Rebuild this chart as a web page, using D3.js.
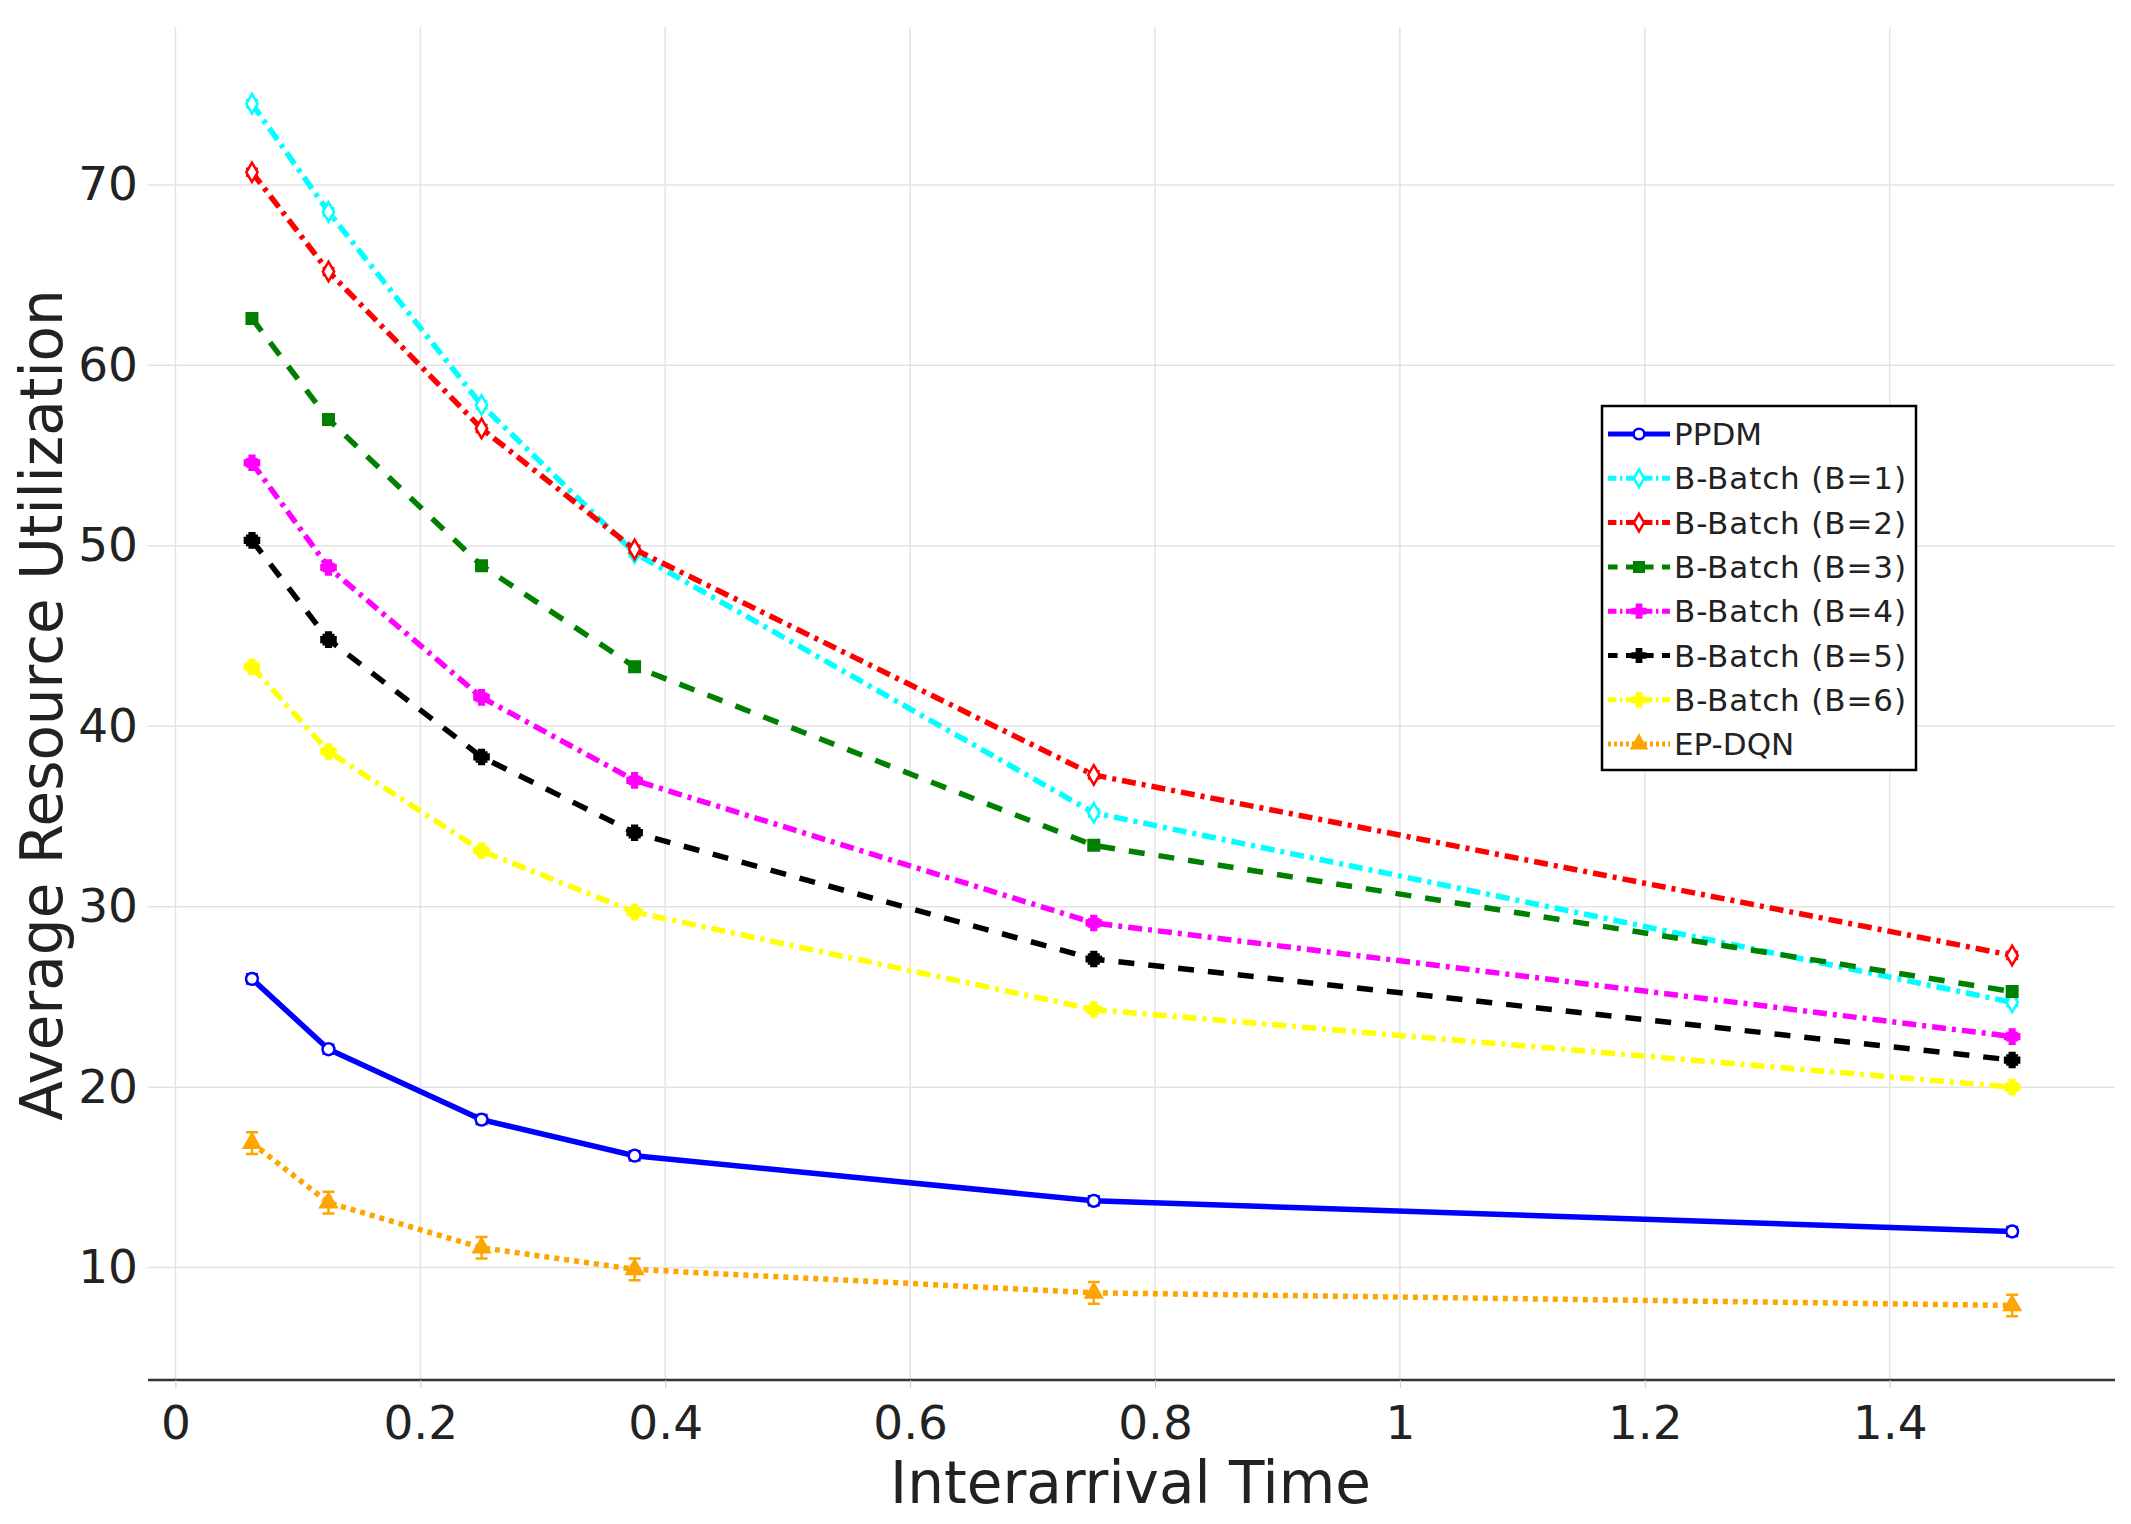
<!DOCTYPE html><html><head><meta charset="utf-8"><script src="https://cdn.jsdelivr.net/npm/d3@7"></script>
<style>body{margin:0;background:#fff}text{font-family:"DejaVu Sans",sans-serif;fill:#222}</style></head><body>
<svg id="c" width="2131" height="1524"></svg>
<script>
const xs=[0.0625,0.125,0.25,0.375,0.75,1.5];
const names=["PPDM","B-Batch (B=1)","B-Batch (B=2)","B-Batch (B=3)","B-Batch (B=4)","B-Batch (B=5)","B-Batch (B=6)","EP-DQN"];
const colors=["#0000ff","#00ffff","#ff0000","#008000","#ff00ff","#000000","#ffff00","#ffa500"];
const dashes=[null,"14,6,4,6","14,6,4,6","16,14","14,6,4,6","16,14","14,6,4,6","5,5"];
const vals=[
[26.0,22.1,18.2,16.2,13.7,12.0],
[74.5,68.5,57.8,49.6,35.2,24.7],
[70.7,65.2,56.5,49.8,37.3,27.3],
[62.6,57.0,48.9,43.3,33.4,25.3],
[54.6,48.8,41.6,37.0,29.1,22.8],
[50.3,44.8,38.3,34.1,27.1,21.5],
[43.3,38.6,33.1,29.7,24.3,20.0],
[16.9,13.6,11.1,9.9,8.6,7.9]];
const errs=[0.25,0.2,0.2,0.2,0.2,0.25,0.2,0.6];
const xTicks=[0,0.2,0.4,0.6,0.8,1,1.2,1.4];
const yTicks=[10,20,30,40,50,60,70];
const svg=d3.select("#c");
const L=148,R=2115,T=27,B=1380;
const x=d3.scaleLinear().domain([-0.0224,1.584]).range([L,R]);
const y=d3.scaleLinear().domain([3.77,78.75]).range([B,T]);
const g=svg.append("g");
g.selectAll(".gx").data(xTicks).join("line").attr("x1",d=>x(d)).attr("x2",d=>x(d)).attr("y1",T).attr("y2",B).attr("stroke","#e3e3e3").attr("stroke-width",1.5);
g.selectAll(".gy").data(yTicks).join("line").attr("x1",L).attr("x2",R).attr("y1",d=>y(d)).attr("y2",d=>y(d)).attr("stroke","#e3e3e3").attr("stroke-width",1.5);
const xa=svg.append("g").attr("transform",`translate(0,${B})`).call(d3.axisBottom(x).tickValues(xTicks).tickFormat(d3.format("~g")).tickSize(8).tickPadding(18));
xa.select(".domain").attr("stroke","#333").attr("stroke-width",2.5).attr("d",`M${L},0H${R}`);
xa.selectAll("line").attr("stroke","#ccc");
xa.selectAll("text").style("font-size","47px");
const ya=svg.append("g").attr("transform",`translate(${L},0)`).call(d3.axisLeft(y).tickValues(yTicks).tickSize(0).tickPadding(10));
ya.select(".domain").remove();
ya.selectAll("text").style("font-size","47px");
svg.append("text").attr("x",x(0.78)).attr("y",1503).attr("text-anchor","middle").style("font-size","58px").text("Interarrival Time");
svg.append("text").attr("transform","translate(62,705) rotate(-90)").attr("text-anchor","middle").style("font-size","58px").text("Average Resource Utilization");
const line=d3.line().x((d,i)=>x(xs[i])).y(d=>y(d));
const sym=[d3.symbolCircle,d3.symbolDiamond,d3.symbolDiamond,d3.symbolSquare,d3.symbolCross,d3.symbolCross,d3.symbolCross,d3.symbolTriangle];
const hollow=[true,true,true,false,false,false,false,false];
vals.forEach((v,k)=>{
  const s=svg.append("g");
  s.append("path").attr("d",line(v)).attr("fill","none").attr("stroke",colors[k]).attr("stroke-width",5.5).attr("stroke-dasharray",dashes[k]);
  v.forEach((d,i)=>{
    const cx=x(xs[i]);
    s.append("path").attr("d",`M${cx-6},${y(d+errs[k])}H${cx+6}M${cx},${y(d+errs[k])}V${y(d-errs[k])}M${cx-6},${y(d-errs[k])}H${cx+6}`).attr("stroke",colors[k]).attr("stroke-width",2.5).attr("fill","none");
    s.append("path").attr("transform",`translate(${cx},${y(d)})`).attr("d",d3.symbol(sym[k],110)()).attr("fill",hollow[k]?"#fff":colors[k]).attr("stroke",colors[k]).attr("stroke-width",2.5);
  });
});
const lg=svg.append("g").attr("transform","translate(1602,406)");
lg.append("rect").attr("width",314).attr("height",364).attr("fill","#fff").attr("stroke","#000").attr("stroke-width",2.5);
names.forEach((n,k)=>{
  const yy=28+k*44.3;
  lg.append("line").attr("x1",6).attr("x2",68).attr("y1",yy).attr("y2",yy).attr("stroke",colors[k]).attr("stroke-width",5).attr("stroke-dasharray",dashes[k]?dashes[k].split(",").map(v=>v*0.6).join(","):null);
  lg.append("path").attr("transform",`translate(37,${yy})`).attr("d",d3.symbol(sym[k],90)()).attr("fill",hollow[k]?"#fff":colors[k]).attr("stroke",colors[k]).attr("stroke-width",2.5);
  lg.append("text").attr("x",72).attr("y",yy+11).style("font-size","31px").attr("textLength",n.length>6?232:null).attr("lengthAdjust","spacing").text(n);
});
</script></body></html>
